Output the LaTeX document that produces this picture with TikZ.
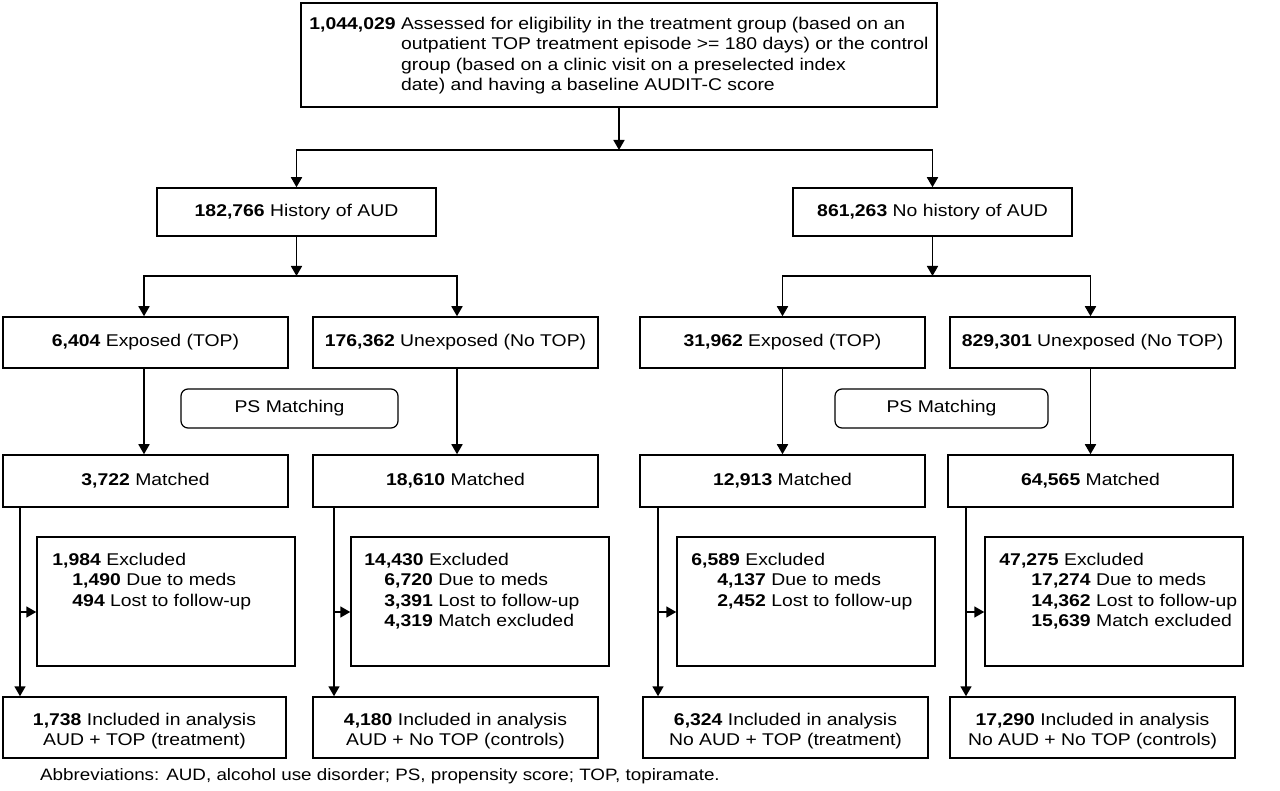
\documentclass[tikz,border=0pt]{standalone}
\usepackage{fontspec}
\setmainfont{Liberation Sans}[FakeStretch=1.14]
\usetikzlibrary{arrows.meta}
\begin{document}
\begin{tikzpicture}[x=1pt,y=-1pt,
  txt/.style={font=\fontsize{17}{20.5}\selectfont},
  box/.style={draw, line width=1.5pt, inner sep=0pt, txt, align=center},
  psbox/.style={draw, line width=1.2pt, rounded corners=7pt, inner sep=0pt, txt},
  arr/.style={line width=1.7pt, -{Triangle[length=10pt,width=11pt]}},
  ln/.style={line width=1.7pt}]
\fill[white] (0,0) rectangle (1280,791);
\useasboundingbox (0,0) rectangle (1280,791);

% top box
\node[box, minimum width=636, minimum height=104] (top) at (619,55) {%
\raisebox{-1pt}[\height][\depth]{\begin{tabular}{@{}l@{\ }l@{}}
\textbf{1,044,029} & Assessed for eligibility in the treatment group (based on an\\
 & outpatient TOP treatment episode >= 180 days) or the control\\
 & group (based on a clinic visit on a preselected index\\
 & date) and having a baseline AUDIT-C score
\end{tabular}}};

% second level
\node[box, minimum width=279, minimum height=48] (hist) at (296.5,212) {\textbf{182,766} History of AUD};
\node[box, minimum width=279, minimum height=48] (nohist) at (932.5,212) {\textbf{861,263} No history of AUD};

% exposure level
\node[box, minimum width=285, minimum height=51] (e1) at (145.5,342.5) {\textbf{6,404} Exposed (TOP)};
\node[box, minimum width=285, minimum height=51] (u1) at (455.5,342.5) {\textbf{176,362} Unexposed (No TOP)};
\node[box, minimum width=285, minimum height=51] (e2) at (782.5,342.5) {\textbf{31,962} Exposed (TOP)};
\node[box, minimum width=285, minimum height=51] (u2) at (1092.5,342.5) {\textbf{829,301} Unexposed (No TOP)};

% PS matching
\node[psbox, minimum width=217, minimum height=39] (ps1) at (289.5,408.5) {PS Matching};
\node[psbox, minimum width=213, minimum height=39] (ps2) at (941.5,408.5) {PS Matching};

% matched
\node[box, minimum width=285, minimum height=52] (m1) at (145.5,481) {\textbf{3,722} Matched};
\node[box, minimum width=285, minimum height=52] (m2) at (455.5,481) {\textbf{18,610} Matched};
\node[box, minimum width=285, minimum height=52] (m3) at (782.5,481) {\textbf{12,913} Matched};
\node[box, minimum width=285, minimum height=52] (m4) at (1090.5,481) {\textbf{64,565} Matched};

% excluded
\node[box, minimum width=258, minimum height=129] (x1) at (166,601.5) {};
\node[box, minimum width=258, minimum height=129] (x2) at (480,601.5) {};
\node[box, minimum width=258, minimum height=129] (x3) at (806,601.5) {};
\node[box, minimum width=258, minimum height=129] (x4) at (1114,601.5) {};

\node[txt, anchor=base west, inner sep=0pt] (x1t) at ([xshift=16pt]x1.west |- 0,565) {%
\begin{tabular}[t]{@{}l@{}}
\textbf{1,984} Excluded\\
\hspace*{20pt}\textbf{1,490} Due to meds\\
\hspace*{20pt}\textbf{494} Lost to follow-up
\end{tabular}};
\node[txt, anchor=base west, inner sep=0pt] (x2t) at ([xshift=14pt]x2.west |- 0,565) {%
\begin{tabular}[t]{@{}l@{}}
\textbf{14,430} Excluded\\
\hspace*{20pt}\textbf{6,720} Due to meds\\
\hspace*{20pt}\textbf{3,391} Lost to follow-up\\
\hspace*{20pt}\textbf{4,319} Match excluded
\end{tabular}};
\node[txt, anchor=base west, inner sep=0pt] (x3t) at ([xshift=15pt]x3.west |- 0,565) {%
\begin{tabular}[t]{@{}l@{}}
\textbf{6,589} Excluded\\
\hspace*{26pt}\textbf{4,137} Due to meds\\
\hspace*{26pt}\textbf{2,452} Lost to follow-up
\end{tabular}};
\node[txt, anchor=base west, inner sep=0pt] (x4t) at ([xshift=15pt]x4.west |- 0,565) {%
\begin{tabular}[t]{@{}l@{}}
\textbf{47,275} Excluded\\
\hspace*{32pt}\textbf{17,274} Due to meds\\
\hspace*{32pt}\textbf{14,362} Lost to follow-up\\
\hspace*{32pt}\textbf{15,639} Match excluded
\end{tabular}};

% included
\node[box, minimum width=283, minimum height=61] (i1) at (144.5,727.5) {\raisebox{-4pt}[\height][\depth]{\begin{tabular}{@{}c@{}}\textbf{1,738} Included in analysis\\AUD + TOP (treatment)\end{tabular}}};
\node[box, minimum width=285, minimum height=61] (i2) at (455.5,727.5) {\raisebox{-4pt}[\height][\depth]{\begin{tabular}{@{}c@{}}\textbf{4,180} Included in analysis\\AUD + No TOP (controls)\end{tabular}}};
\node[box, minimum width=285, minimum height=61] (i3) at (785.5,727.5) {\raisebox{-4pt}[\height][\depth]{\begin{tabular}{@{}c@{}}\textbf{6,324} Included in analysis\\No AUD + TOP (treatment)\end{tabular}}};
\node[box, minimum width=285, minimum height=61] (i4) at (1092.5,727.5) {\raisebox{-4pt}[\height][\depth]{\begin{tabular}{@{}c@{}}\textbf{17,290} Included in analysis\\No AUD + No TOP (controls)\end{tabular}}};

% footnote
\node[anchor=west, inner sep=0pt, font=\fontsize{16.5}{19}\selectfont] (foot) at (40,776) {Abbreviations: AUD, alcohol use disorder; PS, propensity score; TOP, topiramate.};

% connectors
\coordinate (r0) at (0,150);
\coordinate (r1) at (0,276);
\coordinate (r2) at (0,612);
\coordinate (j0) at (top.south |- r0);
\coordinate (j1) at (hist.south |- r1);
\coordinate (j2) at (nohist.south |- r1);
\draw[arr] (top.south) -- (j0);
\draw[arr] (j0) -| (hist.north);
\draw[arr] (j0) -| (nohist.north);
\draw[arr] (hist.south) -- (j1);
\draw[arr] (j1) -| ([xshift=-1.5pt]e1.north);
\draw[arr] (j1) -| ([xshift=1.5pt]u1.north);
\draw[arr] (nohist.south) -- (j2);
\draw[arr] (j2) -| (e2.north);
\draw[arr] (j2) -| ([xshift=-2pt]u2.north);

\draw[arr] ([xshift=-1.5pt]e1.south) -- ([xshift=-1.5pt]m1.north);
\draw[arr] ([xshift=1.5pt]u1.south) -- ([xshift=1.5pt]m2.north);
\draw[arr] (e2.south) -- (m3.north);
\draw[arr] ([xshift=-2pt]u2.south) -- ([xshift=0pt]m4.north);

\coordinate (c1) at (20,0);
\coordinate (c2) at (334,0);
\coordinate (c3) at (658,0);
\coordinate (c4) at (966,0);
\draw[arr] (m1.south -| c1) -- (i1.north -| c1);
\draw[arr] (m2.south -| c2) -- (i2.north -| c2);
\draw[arr] (m3.south -| c3) -- (i3.north -| c3);
\draw[arr] (m4.south -| c4) -- (i4.north -| c4);
\draw[arr] (c1 |- r2) -- (x1.west |- r2);
\draw[arr] (c2 |- r2) -- (x2.west |- r2);
\draw[arr] (c3 |- r2) -- (x3.west |- r2);
\draw[arr] (c4 |- r2) -- (x4.west |- r2);
\end{tikzpicture}
\end{document}
